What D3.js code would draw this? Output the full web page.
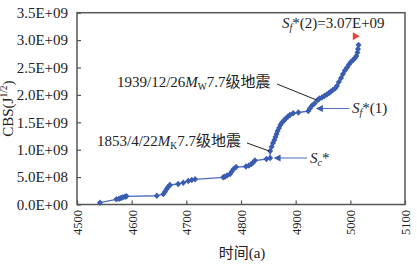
<!DOCTYPE html>
<html lang="zh">
<head>
    <meta charset="UTF-8">
    <title>CBS 时间曲线</title>
    <script src="https://cdnjs.cloudflare.com/ajax/libs/d3/7.8.5/d3.min.js"></script>
    <style>
        * { margin: 0; padding: 0; }
        body { background: #fff; width: 417px; height: 264px; overflow: hidden; }
        text { font-family: "Liberation Serif", "Noto Sans CJK SC", serif; fill: #222; }
    </style>
</head>
<body>
<div id="chart"></div>
<script>
    // data (year axis is offset by +3000)
    const years = [4542, 4572, 4577, 4580.5, 4584, 4588, 4590.5, 4646, 4658, 4661, 4664, 4667, 4670, 4685,
        4694.5, 4703.5, 4710, 4716, 4767.5, 4770.5, 4774.5, 4780, 4783, 4786, 4791, 4809, 4814.5, 4819,
        4822, 4825.5, 4846.5, 4853.3, 4853.3, 4856, 4858.5, 4861, 4863, 4865, 4867, 4869.5, 4872, 4875,
        4878.5, 4882, 4886, 4889.5, 4895.5, 4905, 4923, 4926, 4930, 4934.5, 4940, 4943.5, 4948, 4952.5,
        4957, 4961, 4964.5, 4968, 4972, 4975.5, 4979, 4983, 4986.5, 4990, 4994, 4997.5, 5001, 5005,
        5008.5, 5011, 5013, 5014, 5015];
    const cbs = [0.033e9, 0.095e9, 0.106e9, 0.119e9, 0.131e9, 0.142e9, 0.150e9, 0.16e9, 0.19e9, 0.234e9,
        0.283e9, 0.325e9, 0.356e9, 0.374e9, 0.398e9, 0.429e9, 0.447e9, 0.46e9, 0.496e9, 0.507e9, 0.529e9,
        0.557e9, 0.599e9, 0.642e9, 0.684e9, 0.693e9, 0.712e9, 0.739e9, 0.766e9, 0.803e9, 0.83e9, 0.849e9,
        0.976e9, 1.055e9, 1.122e9, 1.177e9, 1.232e9, 1.286e9, 1.341e9, 1.396e9, 1.451e9, 1.496e9, 1.533e9,
        1.569e9, 1.606e9, 1.633e9, 1.664e9, 1.679e9, 1.704e9, 1.752e9, 1.807e9, 1.843e9, 1.907e9, 1.934e9,
        1.953e9, 1.98e9, 2.007e9, 2.035e9, 2.062e9, 2.089e9, 2.117e9, 2.162e9, 2.235e9, 2.308e9, 2.381e9,
        2.445e9, 2.5e9, 2.555e9, 2.6e9, 2.637e9, 2.673e9, 2.71e9, 2.774e9, 2.838e9, 2.911e9];

    const xTicks = [4500, 4600, 4700, 4800, 4900, 5000, 5100];
    const yTicks = [0, 0.5e9, 1.0e9, 1.5e9, 2.0e9, 2.5e9, 3.0e9, 3.5e9];
    const yTickLabels = ["0.0E+00", "5.0E+08", "1.0E+09", "1.5E+09", "2.0E+09", "2.5E+09", "3.0E+09", "3.5E+09"];

    // marked points: [year, value]
    const scPoint = [4853.3, 0.849e9];
    const quake1853 = [4853.3, 0.976e9];
    const sf1Point = [4926, 1.752e9];
    const quake1939 = [4940, 1.907e9];
    const sf2Point = [5010, 3.07e9];

    const width = 417, height = 264;
    const margin = {top: 12.7, right: 12, bottom: 59.5, left: 77};

    const svg = d3.select("#chart").append("svg")
        .attr("width", width).attr("height", height);

    const x = d3.scaleLinear().domain([4500, 5100]).range([margin.left, width - margin.right]);
    const y = d3.scaleLinear().domain([0, 3.5e9]).range([height - margin.bottom, margin.top]);

    const axisColor = "#555";

    // frame
    svg.append("rect")
        .attr("x", x(4500)).attr("y", y(3.5e9))
        .attr("width", x(5100) - x(4500)).attr("height", y(0) - y(3.5e9))
        .attr("fill", "none").attr("stroke", axisColor).attr("stroke-width", 1.5);

    // y axis
    const yAxis = svg.append("g")
        .attr("transform", `translate(${x(4500)},0)`)
        .call(d3.axisLeft(y).tickValues(yTicks).tickSizeInner(-4).tickSizeOuter(0)
            .tickPadding(9).tickFormat((d, i) => yTickLabels[i]));
    yAxis.select(".domain").remove();
    yAxis.selectAll("line").attr("stroke", axisColor).attr("stroke-width", 1.2);
    yAxis.selectAll("text").attr("font-size", 15).attr("fill", "#222")
        .attr("font-family", "Liberation Serif");

    // x axis
    const xAxis = svg.append("g")
        .attr("transform", `translate(0,${y(0)})`)
        .call(d3.axisBottom(x).tickValues(xTicks).tickSizeInner(-4).tickSizeOuter(0)
            .tickFormat(d3.format("d")));
    xAxis.select(".domain").remove();
    xAxis.selectAll("line").attr("stroke", axisColor).attr("stroke-width", 1.2);
    xAxis.selectAll("text")
        .attr("font-size", 12.5).attr("fill", "#222").attr("font-family", "Liberation Serif")
        .attr("text-anchor", "end")
        .attr("dy", "0.35em")
        .attr("transform", "translate(0,5.5) rotate(-90)")
        .attr("x", 0).attr("y", 0);

    // axis titles
    const yTitle = svg.append("text")
        .attr("transform", `translate(13,${(y(0) + y(3.5e9)) / 2}) rotate(-90)`)
        .attr("text-anchor", "middle").attr("font-size", 15);
    yTitle.append("tspan").text("CBS(J");
    yTitle.append("tspan").attr("font-size", 9.5).attr("dy", -6).text("1/2");
    yTitle.append("tspan").attr("dy", 6).text(")");

    svg.append("text")
        .attr("x", (x(4500) + x(5100)) / 2 + 1).attr("y", 258)
        .attr("text-anchor", "middle").attr("font-size", 15)
        .text("时间(a)");

    // series
    const pts = years.map((yr, i) => ({yr, v: cbs[i]}));
    const blue = "#3a5cb0";

    svg.append("path")
        .datum(pts)
        .attr("fill", "none").attr("stroke", "#4a6cc0").attr("stroke-width", 1.3)
        .attr("d", d3.line().x(d => x(d.yr)).y(d => y(d.v)));

    svg.selectAll(".pt").data(pts).enter()
        .append("path").attr("class", "pt")
        .attr("transform", d => `translate(${x(d.yr)},${y(d.v)})`)
        .attr("d", "M0,-3.2L3,0L0,3.2L-3,0Z")
        .attr("fill", blue);

    // red flag for Sf*(2)
    svg.append("path")
        .attr("transform", `translate(${x(sf2Point[0])},${y(sf2Point[1])})`)
        .attr("d", "M-3,-4L4,0L-3,4Z")
        .attr("fill", "#e8453c");

    // leader lines for the two earthquakes
    svg.append("line")
        .attr("x1", 247).attr("y1", 143)
        .attr("x2", x(quake1853[0]) - 1).attr("y2", y(quake1853[1]))
        .attr("stroke", "#222").attr("stroke-width", 1);
    svg.append("line")
        .attr("x1", 277).attr("y1", 84)
        .attr("x2", x(quake1939[0]) - 1).attr("y2", y(quake1939[1]))
        .attr("stroke", "#222").attr("stroke-width", 1);

    // blue arrows for Sc* and Sf*(1)
    function arrow(x0, tipX, yy) {
        svg.append("line")
            .attr("x1", x0).attr("y1", yy).attr("x2", tipX + 6).attr("y2", yy)
            .attr("stroke", "#4a6cc0").attr("stroke-width", 1);
        svg.append("path")
            .attr("d", `M${tipX},${yy}L${tipX + 7},${yy - 3.5}L${tipX + 7},${yy + 3.5}Z`)
            .attr("fill", "#3a5cb0");
    }
    arrow(307, x(scPoint[0]) + 3.5, y(scPoint[1]));
    arrow(349, x(sf1Point[0]) + 6, y(sf1Point[1]));

    // labels
    function sLabel(px, py, sub, rest) {
        const t = svg.append("text").attr("x", px).attr("y", py).attr("font-size", 15);
        t.append("tspan").attr("font-style", "italic").text("S");
        t.append("tspan").attr("font-style", "italic").attr("font-size", 10).attr("dy", 3).text(sub);
        t.append("tspan").attr("dy", -3).text(rest);
        return t;
    }
    sLabel(282, 28, "f", "*(2)=3.07E+09");
    sLabel(352, 113, "f", "*(1)");
    sLabel(310, 163, "c", "*");

    function quakeLabel(px, py, date, sub) {
        const t = svg.append("text").attr("x", px).attr("y", py).attr("font-size", 15);
        t.append("tspan").text(date);
        t.append("tspan").attr("font-style", "italic").text("M");
        t.append("tspan").attr("font-size", 9.5).attr("dy", 3).text(sub);
        t.append("tspan").attr("dy", -3).text("7.7级地震");
    }
    quakeLabel(117, 87, "1939/12/26", "W");
    quakeLabel(97, 146, "1853/4/22", "K");
</script>
</body>
</html>
